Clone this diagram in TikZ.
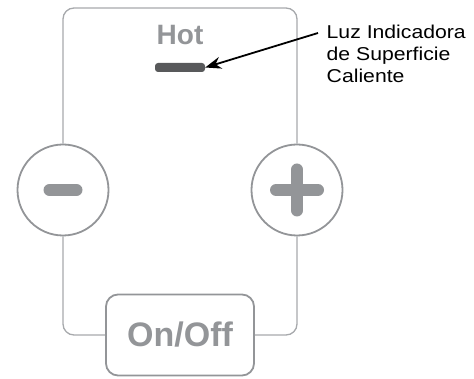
\documentclass[tikz,border=0pt]{standalone}
\usepackage{fontspec}
\usepackage{graphicx}
\setmainfont{Liberation Sans}
\usetikzlibrary{positioning,arrows.meta}
\definecolor{panelgray}{HTML}{939598}
\definecolor{framegray}{HTML}{A7A9AC}
\definecolor{lampdark}{HTML}{58595B}
\newcommand{\wideline}[1]{\scalebox{1.14}[1]{#1}}

\begin{document}
\begin{tikzpicture}[x=1pt, y=-1pt,
  frame/.style={framegray, line width=1.3pt, rounded corners=11pt},
  knob/.style={circle, draw=panelgray, line width=1.8pt, fill=white, minimum size=91pt, inner sep=0pt},
  sym/.style={panelgray, line width=12pt, line cap=round},
  lamp/.style={fill=lampdark, rounded corners=3pt, minimum width=50pt, minimum height=9pt, inner sep=0pt},
  onoffbox/.style={draw=panelgray, line width=1.8pt, fill=white, rounded corners=12pt, minimum width=148pt, minimum height=81pt, inner sep=0pt}]
  \useasboundingbox (0,0) rectangle (474,379);
  \node[knob] (minus) at (63,190) {};
  \node[knob] (plus) at (297,190) {};
  \node[onoffbox, font=\fontsize{34}{34}\selectfont\bfseries, text=panelgray] (onoff) at (180,335) {On/Off};
  \node[font=\fontsize{28}{28}\selectfont\bfseries, text=panelgray] (hot) at (180,35) {Hot};
  \node[lamp] (lamp) at (180,67.5) {};
  \node[anchor=north west, inner sep=0pt, align=left, font=\fontsize{18.6}{21.7}\selectfont] (callout) at (326.5,25) {\wideline{Luz Indicadora}\\\wideline{de Superficie}\\\wideline{Caliente}};
  \coordinate (top) at (180,8);
  \coordinate (tail) at (318,33);
  \draw[frame] (minus.north) |- (top) -| (plus.north);
  \draw[frame] (plus.south) |- (onoff.east);
  \draw[frame] (minus.south) |- (onoff.west);
  \draw[sym] ([xshift=-13.5pt]minus.center) -- ([xshift=13.5pt]minus.center);
  \draw[sym] ([xshift=-21pt]plus.center) -- ([xshift=21pt]plus.center);
  \draw[sym] ([yshift=-20.5pt]plus.center) -- ([yshift=20.5pt]plus.center);
  \draw[-{Stealth[length=16pt, width=12pt]}, line width=1.8pt] (tail) -- (lamp.east);
\end{tikzpicture}
\end{document}
